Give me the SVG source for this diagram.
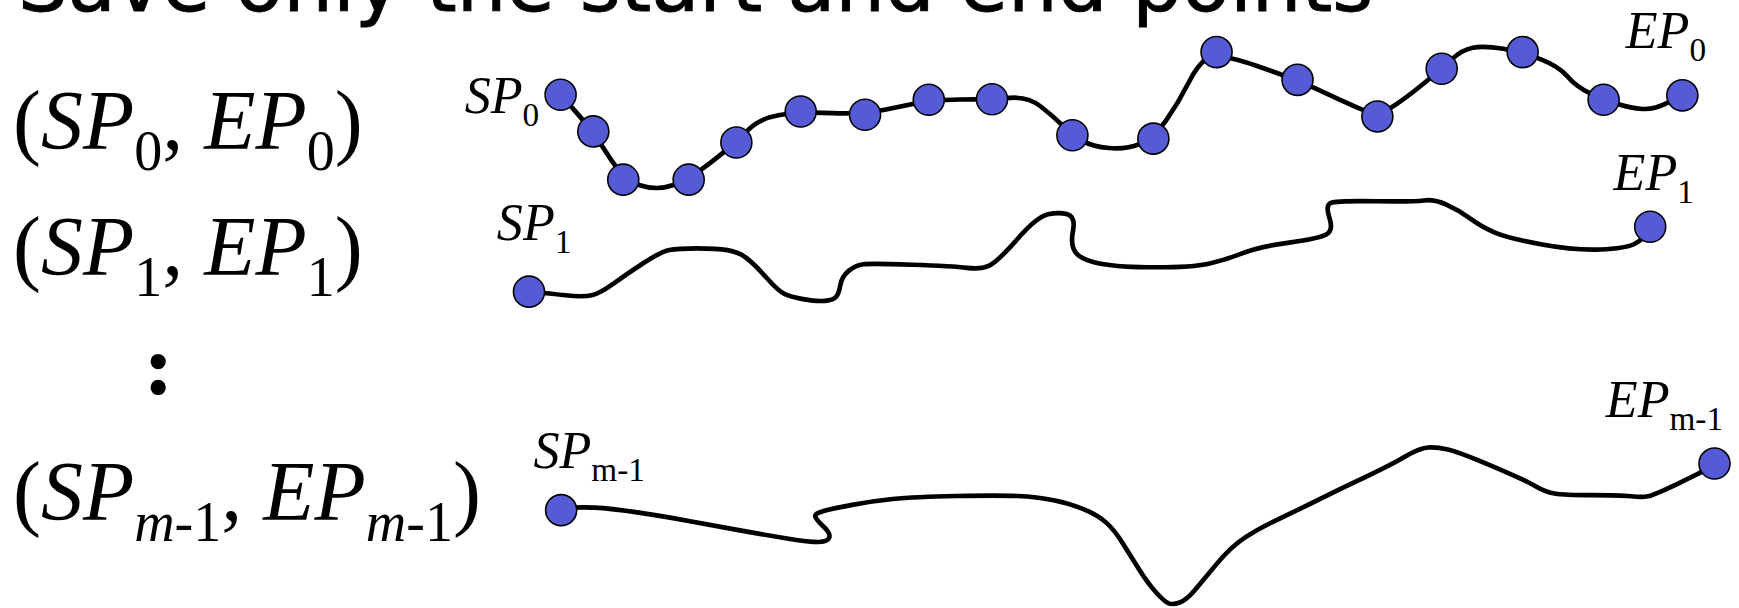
<svg xmlns="http://www.w3.org/2000/svg" width="1739" height="608" viewBox="0 0 1739 608">
<style>
.title{font-family:"DejaVu Sans","Liberation Sans",sans-serif;font-size:70px;fill:#000;stroke:#000;stroke-width:0.8}
.eq{font-family:"Liberation Serif","Times New Roman",serif;font-size:75.7px;fill:#000}
.it{font-style:italic}
.sub{font-size:50.5px}
.lbl{font-family:"Liberation Serif","Times New Roman",serif;font-size:47px;fill:#000}
.lsub{font-size:30px}
.colon{font-family:"Liberation Serif","Times New Roman",serif;font-weight:bold;font-size:73px;fill:#000;stroke:#000;stroke-width:2;stroke-linejoin:round}
.curve{fill:none;stroke:#000;stroke-width:4.2;stroke-linecap:round;stroke-linejoin:round}
.pt{fill:#555BD5;stroke:#000;stroke-width:1.4}
</style>
<rect width="1739" height="608" fill="#ffffff"/>
<g transform="scale(1.109)">
<g id="title"><text class="title" x="16.2" y="10" textLength="1222" lengthAdjust="spacingAndGlyphs">Save only the start and end points</text></g>
<g id="pairs">
<text class="eq" x="11.7" y="134">(<tspan class="it">SP</tspan><tspan class="sub" dy="19">0</tspan><tspan dy="-19">, </tspan><tspan class="it">EP</tspan><tspan class="sub" dy="19">0</tspan><tspan dy="-19">)</tspan></text>
<text class="eq" x="11.7" y="248">(<tspan class="it">SP</tspan><tspan class="sub" dy="19">1</tspan><tspan dy="-19">, </tspan><tspan class="it">EP</tspan><tspan class="sub" dy="19">1</tspan><tspan dy="-19">)</tspan></text>
<text class="colon" x="130.8" y="354">:</text>
<text class="eq" x="11.7" y="469">(<tspan class="it">SP</tspan><tspan class="sub" dy="19"><tspan class="it">m</tspan>-1</tspan><tspan dy="-19">, </tspan><tspan class="it">EP</tspan><tspan class="sub" dy="19"><tspan class="it">m</tspan>-1</tspan><tspan dy="-19">)</tspan></text>
</g>
<g id="connectors">
<path id="traj0" class="curve" d="M505.5,85.5 L520.25,102 Q535,118.5 548.5,140.25 Q562,162 577,167 Q592,172 606.5,167 Q621,162 642.5,145.25 Q664,128.5 674,117.75 Q684,107 703,103.75 Q722,100.5 751,102 Q780,103.5 808.75,96.75 Q837.5,90 866,89.75 Q894.5,89.5 910.75,88.25 Q927,87 938.5,96 Q950,105 958.5,113.5 Q967,122 976,127 Q985,132 1000,133.5 Q1015,135 1027.5,130 Q1040,125 1051.5,108.5 Q1063,92 1071.5,75 Q1080,58 1088.5,52.5 Q1097,47 1133.5,59.5 Q1170,72 1189,81 Q1208,90 1225,97.5 Q1242,105 1254.5,97 Q1267,89 1283.5,75.5 Q1300,62 1309,53.5 Q1318,45 1328,43 Q1338,41 1355.5,44 Q1373,47 1389.5,53.5 Q1406,60 1413.5,69 Q1421,78 1433.5,84 Q1446,90 1458.5,93.75 Q1471,97.5 1481,98.25 Q1491,99 1504,92.5 L1517,86"/>
<path id="traj1" class="curve" d="M477,263 L485.25,263.75 Q493.5,264.5 509.75,266.25 Q526,268 533.5,266.25 Q541,264.5 553.5,255.5 Q566,246.5 581,236.75 Q596,227 603.5,225.5 Q611,224 628.5,224 Q646,224 656,225.5 Q666,227 673.5,233 Q681,239 691,250.25 Q701,261.5 706.25,264.5 Q711.5,267.5 724,269.75 Q736.5,272 744,271.25 Q751.5,270.5 754,267.5 Q756.5,264.5 757.75,257 Q759,249.5 765.25,244.25 Q771.5,239 778.5,238.25 Q785.5,237.5 822.5,238.75 Q859.5,240 872,241.5 Q884.5,243 892,239.5 Q899.5,236 917.25,215.75 Q935,195.5 945,193.25 Q955,191 962.5,193.25 Q970,195.5 967.5,208.25 Q965,221 970,227.75 Q975,234.5 992.5,237.75 Q1010,241 1042.5,241 Q1075,241 1090,237.75 Q1105,234.5 1120,228.5 Q1135,222.5 1162.5,218.75 Q1190,215 1196.25,211.25 Q1202.5,207.5 1198.75,196.25 Q1195,185 1200,183 Q1205,181 1240,181.5 Q1275,182 1284,180.75 Q1293,179.5 1304.25,184.5 Q1315.5,189.5 1325.5,197 Q1335.5,204.5 1348,209.75 Q1360.5,215 1390.5,220.5 Q1420.5,226 1443,225 Q1465.5,224 1473.25,220.25 Q1481,216.5 1484.5,210.5 L1488,204.5"/>
<path id="trajm" class="curve" d="M506,460 L513.5,458.5 Q521,457 536,457.75 Q551,458.5 576,462.25 Q601,466 621,469.75 Q641,473.5 666,478 Q691,482.5 711,485.75 Q731,489 738.75,488.75 Q746.5,488.5 747.75,484.75 Q749,481 742.75,475 Q736.5,469 735.25,466 Q734,463 742.75,460.75 Q751.5,458.5 768.5,455.25 Q785.5,452 805,450 Q824.5,448 862.25,447.25 Q900,446.5 917.5,447.25 Q935,448 950,451 Q965,454 977.5,459.25 Q990,464.5 997.5,471.25 Q1005,478 1012.5,490 Q1020,502 1027.5,514 Q1035,526 1042.5,534.25 Q1050,542.5 1053.75,544 Q1057.5,545.5 1063.75,543.25 Q1070,541 1077.5,532 Q1085,523 1097.5,508 Q1110,493 1122.5,484.75 Q1135,476.5 1152.5,468.25 Q1170,460 1190,450 Q1210,440 1232.5,429.5 Q1255,419 1267.5,411.5 Q1280,404 1287.75,403.5 Q1295.5,403 1305.5,405.25 Q1315.5,407.5 1345.5,420.25 Q1375.5,433 1384.25,438.25 Q1393,443.5 1401.75,445 Q1410.5,446.5 1435.5,446.5 Q1460.5,446.5 1470.75,447.5 Q1481,448.5 1486,447.5 Q1491,446.5 1513.25,436 Q1535.5,425.5 1540.75,421.75 L1546,418"/>
</g>
<g id="points0">
<circle class="pt" cx="505.5" cy="85.5" r="14"/>
<circle class="pt" cx="535" cy="118.5" r="14"/>
<circle class="pt" cx="562" cy="162" r="14"/>
<circle class="pt" cx="621" cy="162" r="14"/>
<circle class="pt" cx="664" cy="128.5" r="14"/>
<circle class="pt" cx="722" cy="100.5" r="14"/>
<circle class="pt" cx="780" cy="103.5" r="14"/>
<circle class="pt" cx="837.5" cy="90" r="14"/>
<circle class="pt" cx="894.5" cy="89.5" r="14"/>
<circle class="pt" cx="967" cy="122" r="14"/>
<circle class="pt" cx="1040" cy="125" r="14"/>
<circle class="pt" cx="1097" cy="47" r="14"/>
<circle class="pt" cx="1170" cy="72" r="14"/>
<circle class="pt" cx="1242" cy="105" r="14"/>
<circle class="pt" cx="1300" cy="62" r="14"/>
<circle class="pt" cx="1373" cy="47" r="14"/>
<circle class="pt" cx="1446" cy="90" r="14"/>
<circle class="pt" cx="1517" cy="86" r="14"/>
</g>
<g id="points1">
<circle class="pt" cx="477" cy="263" r="14"/>
<circle class="pt" cx="1488" cy="204.5" r="14"/>
</g>
<g id="pointsm">
<circle class="pt" cx="506" cy="460" r="14"/>
<circle class="pt" cx="1546" cy="418" r="14"/>
</g>
<g id="labels">
<text class="lbl" x="419" y="102"><tspan class="it">SP</tspan><tspan class="lsub" dy="12">0</tspan></text>
<text class="lbl" x="1466" y="43"><tspan class="it">EP</tspan><tspan class="lsub" dy="12">0</tspan></text>
<text class="lbl" x="448" y="216"><tspan class="it">SP</tspan><tspan class="lsub" dy="12">1</tspan></text>
<text class="lbl" x="1455" y="171"><tspan class="it">EP</tspan><tspan class="lsub" dy="12">1</tspan></text>
<text class="lbl" x="481" y="422"><tspan class="it">SP</tspan><tspan class="lsub" dy="12">m-1</tspan></text>
<text class="lbl" x="1448" y="376"><tspan class="it">EP</tspan><tspan class="lsub" dy="12">m-1</tspan></text>
</g>
</g>
</svg>
